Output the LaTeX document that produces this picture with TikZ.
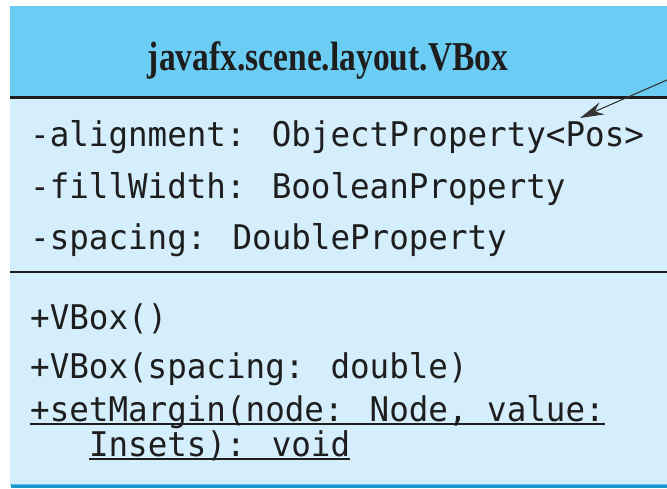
\documentclass[tikz,border=0pt]{standalone}
\usepackage{fontspec}
\usepackage{graphicx}
\usetikzlibrary{arrows.meta}
\setmainfont{Liberation Serif}
\newfontfamily\umlmono{DejaVu Sans Mono}
\definecolor{headblue}{HTML}{6BCDF4}
\definecolor{bodyblue}{HTML}{D4EEFC}
\definecolor{edgeblue}{HTML}{1797CC}
\definecolor{edgelight}{HTML}{5FC0EA}
\definecolor{inkc}{HTML}{1E1E1E}
\newcommand\monotxt[1]{\scalebox{0.957}[1]{#1}}
\newcommand\myul[1]{\setbox0\hbox{#1}\rlap{\rule[-3.8pt]{\wd0}{2pt}}\box0}
\tikzset{
  member/.style={anchor=base west, inner sep=0pt, text=inkc, font=\umlmono\fontsize{34}{40}\selectfont},
  title/.style={anchor=base, inner sep=0pt, text=inkc, font=\fontsize{41}{48}\selectfont\bfseries},
  sepline/.style={draw=inkc, line width=2.2pt},
  pointer/.style={draw=inkc!90, line width=1.1pt, -{Stealth[length=24pt,width=13pt]}}
}
\begin{document}
\begin{tikzpicture}[x=1pt,y=-1pt]
\useasboundingbox (0,0) rectangle (667,488);
% compartments
\fill[headblue] (10,6) rectangle (667,97.5);
\fill[bodyblue] (10,97.5) rectangle (667,484);
\fill[edgelight] (10,483.5) rectangle (667,485);
\fill[edgeblue] (11,485) rectangle (667,488);
\draw[sepline] (10,97.5) -- (667,97.5);
\draw[sepline] (10,272) -- (667,272);
% title
\node[title] (cls) at (328,70.5) {\scalebox{0.817}[1]{javafx.scene.layout.VBox}};
% attributes
\node[member] (a1) at (30,146) {\monotxt{-alignment: ObjectProperty<Pos>}};
\node[member] (a2) at (30,198) {\monotxt{-fillWidth: BooleanProperty}};
\node[member] (a3) at (30,249) {\monotxt{-spacing: DoubleProperty}};
% methods
\node[member] (m1) at (30,329) {\monotxt{+VBox()}};
\node[member] (m2) at (30,378) {\monotxt{+VBox(spacing: double)}};
\node[member] (m3) at (30,421) {\myul{\monotxt{+setMargin(node: Node, value:}}};
\node[member] (m4) at (88.8,456) {\myul{\monotxt{Insets): void}}};
% pointer
\coordinate (pstart) at (667,80);
\coordinate (ptip) at (580,118);
\draw[pointer] (pstart) -- (ptip);
\end{tikzpicture}
\end{document}
